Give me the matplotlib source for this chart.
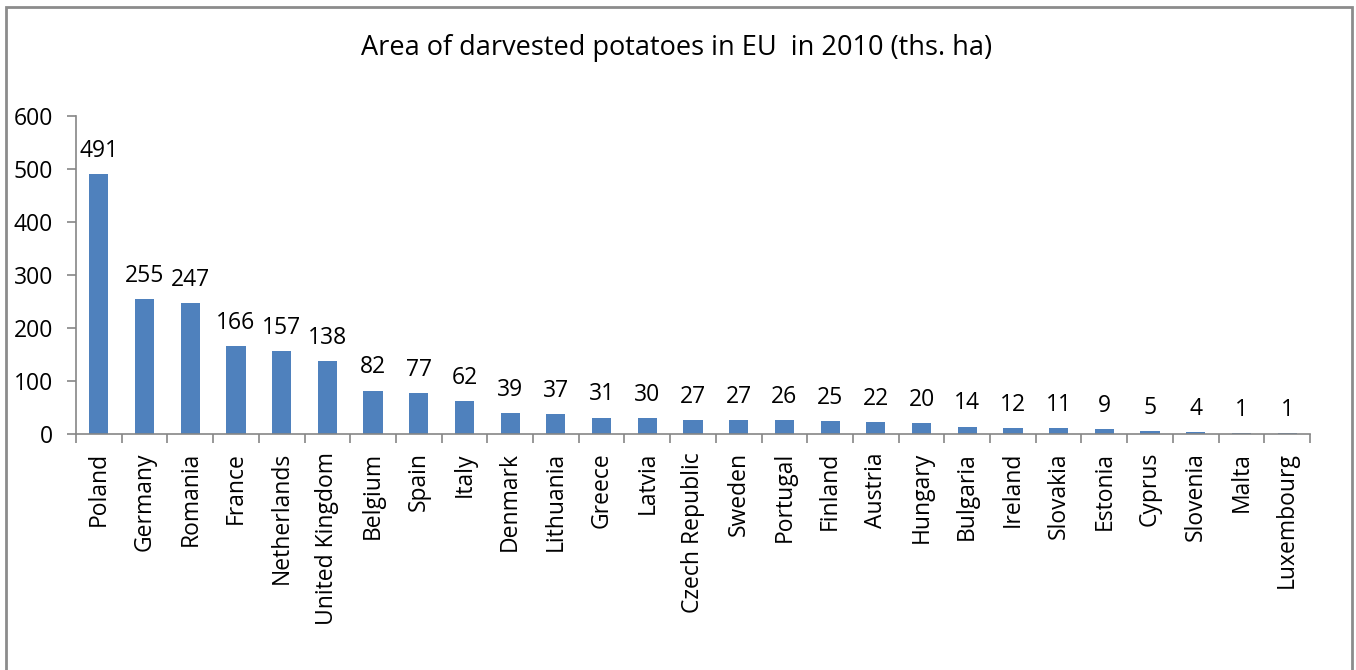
import matplotlib
matplotlib.use("Agg")
import matplotlib.pyplot as plt
from matplotlib.patches import Rectangle

countries = ["Poland", "Germany", "Romania", "France", "Netherlands", "United Kingdom",
             "Belgium", "Spain", "Italy", "Denmark", "Lithuania", "Greece", "Latvia",
             "Czech Republic", "Sweden", "Portugal", "Finland", "Austria", "Hungary",
             "Bulgaria", "Ireland", "Slovakia", "Estonia", "Cyprus", "Slovenia", "Malta",
             "Luxembourg"]
values = [491, 255, 247, 166, 157, 138, 82, 77, 62, 39, 37, 31, 30, 27, 27, 26, 25,
          22, 20, 14, 12, 11, 9, 5, 4, 1, 1]
yticks = [0, 100, 200, 300, 400, 500, 600]

plt.rcParams['font.family'] = ['Open Sans', 'DejaVu Sans']
FS = 16.5
fig = plt.figure(figsize=(13.56, 6.70), dpi=100)
ax = fig.add_axes([76/1356, 1-434/670, (1310-76)/1356, (434-116)/670])

x = list(range(len(countries)))
ax.bar(x, values, width=0.42, color="#4F81BD", zorder=2)
for xi, v in zip(x, values):
    ax.annotate(str(v), (xi, v), xytext=(0, 8), textcoords="offset points",
                ha="center", va="bottom", fontsize=FS)

ax.set_xlim(-0.5, len(countries) - 0.5)
ax.set_ylim(0, 600)
ax.set_yticks(yticks)
ax.set_yticklabels([str(t) for t in yticks], fontsize=FS)
ax.set_xticks(x)
ax.set_xticklabels(countries, rotation=90, fontsize=FS)
ax.tick_params(axis='x', length=0, pad=13)
ax.set_xticks([i - 0.5 for i in range(len(countries) + 1)], minor=True)
ax.tick_params(axis='x', which='minor', length=6.5, color="#868686", width=1.2)
ax.tick_params(axis='y', length=6.5, color="#868686", width=1.2, pad=10)
for s in ["top", "right"]:
    ax.spines[s].set_visible(False)
for s in ["left", "bottom"]:
    ax.spines[s].set_color("#868686")
    ax.spines[s].set_linewidth(1.2)

fig.text(677/1356, 1-48/670, "Area of darvested potatoes in EU  in 2010 (ths. ha)",
         ha="center", va="center", fontsize=19.5)

fig.patches.append(Rectangle((6/1356, -0.05), (1352-6)/1356, 1-7/670+0.05,
                             transform=fig.transFigure, fill=False,
                             edgecolor="#8c8c8c", linewidth=2))

fig.savefig("out.png", dpi=100)
